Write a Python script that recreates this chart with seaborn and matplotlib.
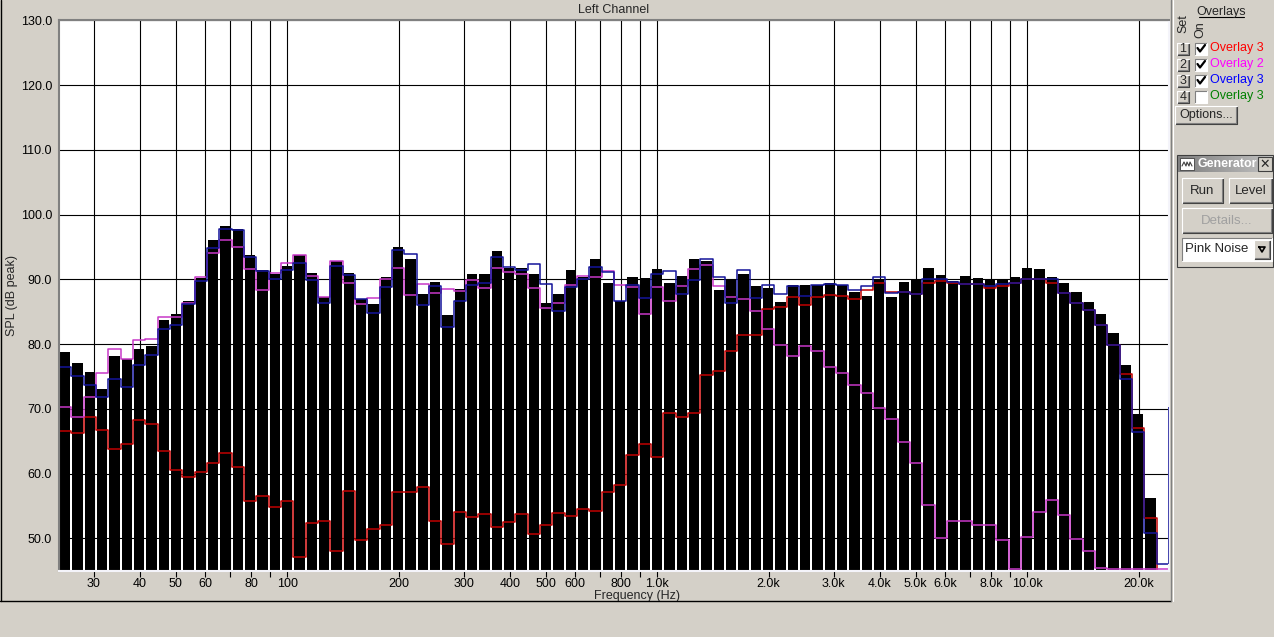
"""
plot.py
RTA style spectrum (30 bands per decade): live bars plus three stored
overlays, laid out like the analyser window with its side panel.
"""

import numpy as np
import matplotlib
matplotlib.use("Agg")
import matplotlib.pyplot as plt
from matplotlib.patches import Rectangle
from matplotlib.ticker import FixedLocator, FixedFormatter, NullLocator
import seaborn as sns

W, H = 1274, 637
PANEL_BG = "#D4D0C8"

# ---------- band layout: 30 bands / decade, first band centred at 10**1.4 Hz ----------
FIRST_BAND_LOG = 1.4
BANDS_PER_DECADE = 30
N_BANDS = 90

# ---------- data, dB SPL peak ----------
live_spl = [
    78.7, 77.1, 75.7, 73.1, 78.2, 77.7, 79.3, 79.7, 83.7, 84.6,
    86.7, 90.2, 96.0, 98.3, 97.7, 93.7, 91.4, 90.8, 92.1, 93.7,
    90.9, 87.2, 92.8, 90.9, 86.9, 86.2, 90.3, 95.0, 93.1, 87.8,
    89.6, 84.5, 88.5, 90.8, 90.8, 94.4, 91.7, 91.8, 90.8, 86.3,
    87.8, 91.4, 90.4, 93.1, 89.4, 86.7, 90.4, 90.2, 91.6, 89.5,
    90.5, 93.1, 92.9, 88.3, 90.0, 90.8, 89.0, 88.7, 86.5, 89.1,
    89.1, 89.1, 89.5, 89.1, 88.0, 87.4, 90.0, 87.3, 89.6, 90.0,
    91.7, 90.7, 89.8, 90.5, 90.2, 90.0, 90.0, 90.4, 91.7, 91.6,
    90.3, 89.4, 88.0, 86.5, 84.6, 81.7, 76.8, 69.2, 56.2,
]

overlay_set1 = [  # red
    66.5, 66.3, 68.7, 66.8, 63.8, 64.5, 68.2, 67.6, 63.5, 60.6,
    59.4, 60.3, 61.6, 63.2, 61.0, 55.7, 56.6, 54.9, 55.8, 47.1,
    52.3, 52.7, 48.0, 57.3, 49.7, 51.4, 52.1, 57.1, 57.1, 58.0,
    52.7, 49.2, 54.0, 53.3, 53.7, 51.7, 52.5, 53.7, 50.6, 52.1,
    53.9, 53.4, 54.6, 54.2, 57.1, 58.3, 62.8, 64.5, 62.5, 69.4,
    68.7, 69.4, 75.2, 75.9, 79.0, 81.4, 81.4, 85.4, 85.7, 87.2,
    86.0, 87.3, 87.6, 87.5, 87.0, 88.4, 89.5, 88.1, 88.0, 87.7,
    89.5, 89.8, 89.4, 89.2, 89.2, 88.6, 88.9, 89.5, 90.0, 90.0,
    89.4, 87.9, 86.4, 85.2, 83.0, 79.9, 75.3, 67.1, 53.2,
]

overlay_set2 = [  # magenta
    70.3, 68.8, 71.8, 75.6, 79.2, 77.7, 80.7, 80.8, 84.2, 84.2,
    86.4, 90.4, 94.1, 96.1, 95.0, 91.6, 88.4, 91.0, 92.5, 93.7,
    90.5, 87.3, 92.8, 89.5, 86.2, 87.1, 90.1, 91.8, 87.6, 89.3,
    87.9, 88.5, 88.2, 89.9, 88.6, 91.8, 91.1, 90.8, 88.6, 85.5,
    86.4, 89.1, 90.5, 90.4, 91.3, 89.1, 88.8, 84.7, 88.8, 86.7,
    88.9, 91.6, 92.2, 88.9, 87.2, 87.0, 85.1, 82.4, 79.9, 78.1,
    79.7, 78.9, 76.5, 75.6, 73.7, 72.4, 70.1, 68.5, 64.8, 61.7,
    55.2, 50.0, 52.7, 52.7, 52.0, 52.0, 49.7, 45.2, 50.2, 54.0,
    55.9, 53.6, 49.9, 48.0, 45.4, 45.2, 45.2, 45.2, 45.2, 45.2,
]

overlay_set3 = [  # blue
    76.4, 75.0, 73.7, 71.8, 74.6, 73.4, 76.7, 78.3, 82.3, 83.0,
    86.2, 89.7, 94.9, 97.8, 97.6, 93.5, 91.3, 90.1, 91.4, 92.5,
    89.9, 86.3, 92.1, 90.6, 86.9, 84.8, 88.8, 94.6, 93.9, 86.0,
    88.9, 82.7, 86.6, 89.1, 89.5, 93.5, 91.9, 91.4, 92.3, 89.3,
    85.1, 88.8, 90.1, 91.9, 91.1, 86.7, 89.1, 87.1, 90.8, 91.3,
    87.7, 89.9, 93.2, 90.4, 86.4, 91.4, 87.1, 89.1, 87.8, 88.9,
    87.5, 89.1, 89.2, 89.1, 88.4, 88.9, 90.3, 87.9, 88.1, 87.7,
    90.0, 90.0, 89.6, 89.2, 89.2, 89.0, 89.3, 89.5, 90.0, 90.0,
    90.0, 87.9, 86.4, 85.2, 83.0, 79.9, 74.6, 66.4, 50.8, 46.1,
]
overlay_set3_tail = 70.3  # blue trace climbs back up at the right edge

freq_ticks = [30, 40, 50, 60, 70, 80, 90, 100, 200, 300, 400, 500, 600, 700,
              800, 900, 1000, 2000, 3000, 4000, 5000, 6000, 7000, 8000, 9000,
              10000, 20000]
freq_labels = ["30", "40", "50", "60", "", "80", "", "100", "200", "300", "400",
               "500", "600", "", "800", "", "1.0k", "2.0k", "3.0k", "4.0k",
               "5.0k", "6.0k", "", "8.0k", "", "10.0k", "20.0k"]
spl_ticks = [50, 60, 70, 80, 90, 100, 110, 120, 130]

overlay_names = ["Overlay 3", "Overlay 2", "Overlay 3", "Overlay 3"]
overlay_text_colors = ["#FF0000", "#FF00FF", "#0000FF", "#008000"]
overlay_checked = [True, True, True, False]

# band centres and edges (edges in log10 units, histplot bins in log space)
band_centres = 10 ** (FIRST_BAND_LOG + np.arange(N_BANDS) / BANDS_PER_DECADE)
log_edges = FIRST_BAND_LOG + (np.arange(N_BANDS + 1) - 0.5) / BANDS_PER_DECADE
bin_list = [float(e) for e in log_edges]

sns.set_theme(style="white")
plt.rcParams["font.family"] = ["Liberation Sans", "DejaVu Sans"]
plt.rcParams["font.size"] = 9

fig = plt.figure(figsize=(W / 100, H / 100), dpi=100, facecolor=PANEL_BG)
ax = fig.add_axes([59 / W, 1 - 570.7 / H, (1169 - 59) / W, (570.7 - 20.3) / H])
ax.set_facecolor("white")

# live bars
sns.histplot(x=band_centres[:len(live_spl)], weights=live_spl, bins=bin_list,
             log_scale=True, element="bars", shrink=0.85, color="black",
             alpha=1, edgecolor="none", linewidth=0, ax=ax)

# overlays, set 1 first so set 3 ends up on top
for vals, col in [(overlay_set1, "#C00000"), (overlay_set2, "#C838C8"),
                  (overlay_set3, "#14149A")]:
    sns.histplot(x=band_centres[:len(vals)], weights=vals, bins=bin_list,
                 log_scale=True, element="step", fill=False, color=col,
                 linewidth=1.1, ax=ax)
x_right = 10 ** log_edges[-1]
ax.vlines(x_right * 0.998, overlay_set3[-1], overlay_set3_tail, color="#14149A",
          lw=1.1, zorder=3)

ax.set_xlim(10 ** log_edges[0], x_right)
ax.set_ylim(45, 130)
ax.xaxis.set_major_locator(FixedLocator(freq_ticks))
ax.xaxis.set_major_formatter(FixedFormatter(freq_labels))
ax.xaxis.set_minor_locator(NullLocator())
ax.set_yticks(spl_ticks)
ax.set_yticklabels([f"{v:.1f}" for v in spl_ticks])
ax.grid(True, color="black", linewidth=0.8)
ax.set_axisbelow(True)
ax.tick_params(axis="x", direction="out", bottom=True, length=4, width=0.8,
               color="black", pad=1, labelsize=9, labelcolor="black")
ax.tick_params(axis="y", length=0, pad=5, labelsize=9, labelcolor="black")
ax.set_xlabel("")
ax.set_ylabel("")
for side in ["left", "top"]:
    ax.spines[side].set_color("#808080")
    ax.spines[side].set_linewidth(1.5)
for side in ["right", "bottom"]:
    ax.spines[side].set_color("#F4F4FA")
    ax.spines[side].set_linewidth(1.5)

fig.text(614 / W, 1 - 10 / H, "Left Channel", ha="center", va="center", fontsize=9)
fig.text(637 / W, 1 - 595.5 / H, "Frequency (Hz)", ha="center", va="center", fontsize=9)
fig.text(12 / W, 1 - 296 / H, "SPL (dB peak)", ha="center", va="center",
         rotation=90, fontsize=9)

# ---------- window chrome and side panel, in pixel coordinates ----------
ui = fig.add_axes([0, 0, 1, 1], zorder=10)
ui.set_xlim(0, W)
ui.set_ylim(H, 0)
ui.axis("off")
ui.patch.set_alpha(0)


def raised(x0, y0, x1, y1, face=PANEL_BG):
    ui.add_patch(Rectangle((x0, y0), x1 - x0, y1 - y0, facecolor=face, edgecolor="none"))
    ui.plot([x0, x1, x1], [y1, y1, y0], color="#404040", lw=0.8)
    ui.plot([x0 + 1, x1 - 1, x1 - 1], [y1 - 1, y1 - 1, y0 + 1], color="#808080", lw=0.8)
    ui.plot([x0, x0, x1], [y1, y0, y0], color="white", lw=0.8)


def sunken(x0, y0, x1, y1, face="white"):
    ui.add_patch(Rectangle((x0, y0), x1 - x0, y1 - y0, facecolor=face, edgecolor="none"))
    ui.plot([x0, x0, x1], [y1, y0, y0], color="#808080", lw=0.8)
    ui.plot([x0, x1, x1], [y1, y1, y0], color="white", lw=0.8)


# outer frame of the graph pane
ui.plot([0.5, 0.5], [0, 600.5], color="black", lw=1)
ui.plot([0, 1171], [600.5, 600.5], color="black", lw=1)
ui.plot([1171, 1171], [0, 600.5], color="#808080", lw=1)
ui.plot([1172.5, 1172.5], [0, 600.5], color="white", lw=0.8)

# overlays box
ui.text(1221.5, 11.5, "Overlays", ha="center", va="center", fontsize=9)
ui.plot([1199, 1244], [17, 17], color="black", lw=0.8)
ui.text(1183, 24, "Set", ha="center", va="center", rotation=90, fontsize=9)
ui.text(1200, 30, "On", ha="center", va="center", rotation=90, fontsize=9)
for i, (name, tcol, on) in enumerate(zip(overlay_names, overlay_text_colors,
                                           overlay_checked)):
    yc = 48.5 + 16 * i
    raised(1177, yc - 6, 1189, yc + 6)
    ui.text(1183, yc, str(i + 1), ha="center", va="center", fontsize=9)
    sunken(1195, yc - 6, 1207, yc + 6)
    if on:
        ui.plot([1197.5, 1200, 1205], [yc - 0.5, yc + 3, yc - 3.5], color="black", lw=1.6)
    ui.text(1210, yc, name, ha="left", va="center", fontsize=9, color=tcol)

raised(1175, 106, 1237, 124)
ui.text(1206, 115, "Options...", ha="center", va="center", fontsize=9)

# generator box
ui.add_patch(Rectangle((1177, 155), 96, 112, facecolor=PANEL_BG,
                       edgecolor="#404040", lw=0.8))
grad = np.linspace(0, 1, 64)[None, :]
ui.imshow(grad, cmap=matplotlib.colors.LinearSegmentedColormap.from_list(
    "tb", ["#808080", "#C0C0C0"]), extent=(1178, 1272, 172, 156), aspect="auto", zorder=2)
ui.add_patch(Rectangle((1180, 158), 14, 12, facecolor="white", edgecolor="#404040",
                       lw=0.6, zorder=3))
ui.plot([1182, 1184, 1186, 1187, 1189, 1190, 1192], [166, 162, 166, 162, 166, 162, 166],
        color="#404040", lw=0.8, zorder=4)
ui.text(1197, 164, "Generator", ha="left", va="center", fontsize=9,
        fontweight="bold", color="white", zorder=4)
ui.add_patch(Rectangle((1258, 157), 14, 14, facecolor=PANEL_BG, edgecolor="#404040",
                       lw=0.8, zorder=3))
ui.text(1265, 164, "✕", ha="center", va="center", fontsize=9, fontweight="bold",
        family=["DejaVu Sans"], zorder=4)

raised(1182, 178, 1223, 203)
ui.text(1202.5, 190.5, "Run", ha="center", va="center", fontsize=9.5)
raised(1229, 178, 1272, 203)
ui.text(1250.5, 190.5, "Level", ha="center", va="center", fontsize=9.5)
raised(1182, 208, 1272, 233)
ui.text(1227, 220.5, "Details...", ha="center", va="center", fontsize=9.5,
        color="#A0A0A0")
sunken(1182, 238, 1272, 261)
ui.text(1185, 249.5, "Pink Noise", ha="left", va="center", fontsize=9.5)
raised(1254, 240, 1270, 259)
ui.plot([1259, 1262, 1265, 1259], [247, 252, 247, 247], color="black", lw=1.2)

fig.savefig("out.png", dpi=100, facecolor=fig.get_facecolor())
